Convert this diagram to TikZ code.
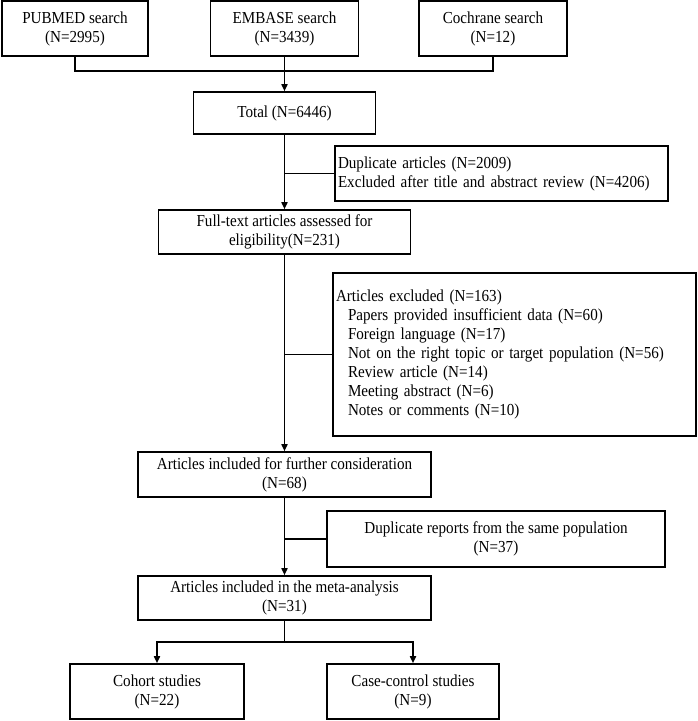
\documentclass[tikz,border=0pt]{standalone}
\usepackage{fontspec}
\setmainfont{Liberation Serif}[FakeStretch=0.9]
\usetikzlibrary{arrows.meta}

\begin{document}
\begin{tikzpicture}[x=1pt,y=-1pt,
  box/.style={draw,line width=1.6pt,inner sep=3pt,align=center,
    font=\fontsize{16.8}{19}\selectfont},
  lbox/.style={box,align=left},
  link/.style={line width=1.6pt},
  arr/.style={link,-{Triangle[length=7pt,width=6pt]}}]
\useasboundingbox (0,0) rectangle (697,721);
% searches
\node[box,minimum width=146pt,minimum height=55pt] (pubmed) at (75,28.5) {PUBMED search\\(N=2995)};
\node[box,minimum width=148pt,minimum height=55pt] (embase) at (284.5,28.5) {EMBASE search\\(N=3439)};
\node[box,minimum width=148pt,minimum height=55pt] (cochrane) at (493,28.5) {Cochrane search\\(N=12)};
% main column
\node[box,minimum width=182pt,minimum height=42pt] (total) at (284.5,113) {Total (N=6446)};
\node[box,minimum width=252pt,minimum height=44pt] (full) at (284.5,232) {Full-text articles assessed for\\eligibility(N=231)};
\node[box,minimum width=293pt,minimum height=45pt] (further) at (284.5,474.5) {Articles included for further consideration\\(N=68)};
\node[box,minimum width=293pt,minimum height=44pt] (meta) at (284.5,598) {Articles included in the meta-analysis\\(N=31)};
\node[box,minimum width=174pt,minimum height=55pt] (cohort) at (157,691.5) {Cohort studies\\(N=22)};
\node[box,minimum width=172pt,minimum height=55pt] (casec) at (413,691.5) {Case-control studies\\(N=9)};
% exclusions
\node[lbox,text width=327pt,minimum height=55pt] (dup) at (501.5,173.5) {Duplicate articles (N=2009)\\Excluded after title and abstract review (N=4206)};
\node[lbox,text width=357pt,minimum height=163pt] (excl) at (514.5,354.5) {Articles excluded (N=163)\\
  \hspace*{12pt}Papers provided insufficient data (N=60)\\
  \hspace*{12pt}Foreign language (N=17)\\
  \hspace*{12pt}Not on the right topic or target population (N=56)\\
  \hspace*{12pt}Review article (N=14)\\
  \hspace*{12pt}Meeting abstract (N=6)\\
  \hspace*{12pt}Notes or comments (N=10)};
\node[box,minimum width=338pt,minimum height=56pt] (dupr) at (496,539) {Duplicate reports from the same population\\(N=37)};
% connectors
\draw[link] (pubmed.south) -- ++(0,14) -| (cochrane.south);
\draw[arr] (embase) -- (total);
\draw[arr] (total) -- (full);
\draw[link] (total.south |- dup.west) -- (dup.west);
\draw[arr] (full) -- (further);
\draw[link] (full.south |- excl.west) -- (excl.west);
\draw[arr] (further) -- (meta);
\draw[link] (further.south |- dupr.west) -- (dupr.west);
\draw[arr] (meta.south) -- ++(0,21) -| (cohort.north);
\draw[arr] (meta.south) -- ++(0,21) -| (casec.north);
\end{tikzpicture}
\end{document}
